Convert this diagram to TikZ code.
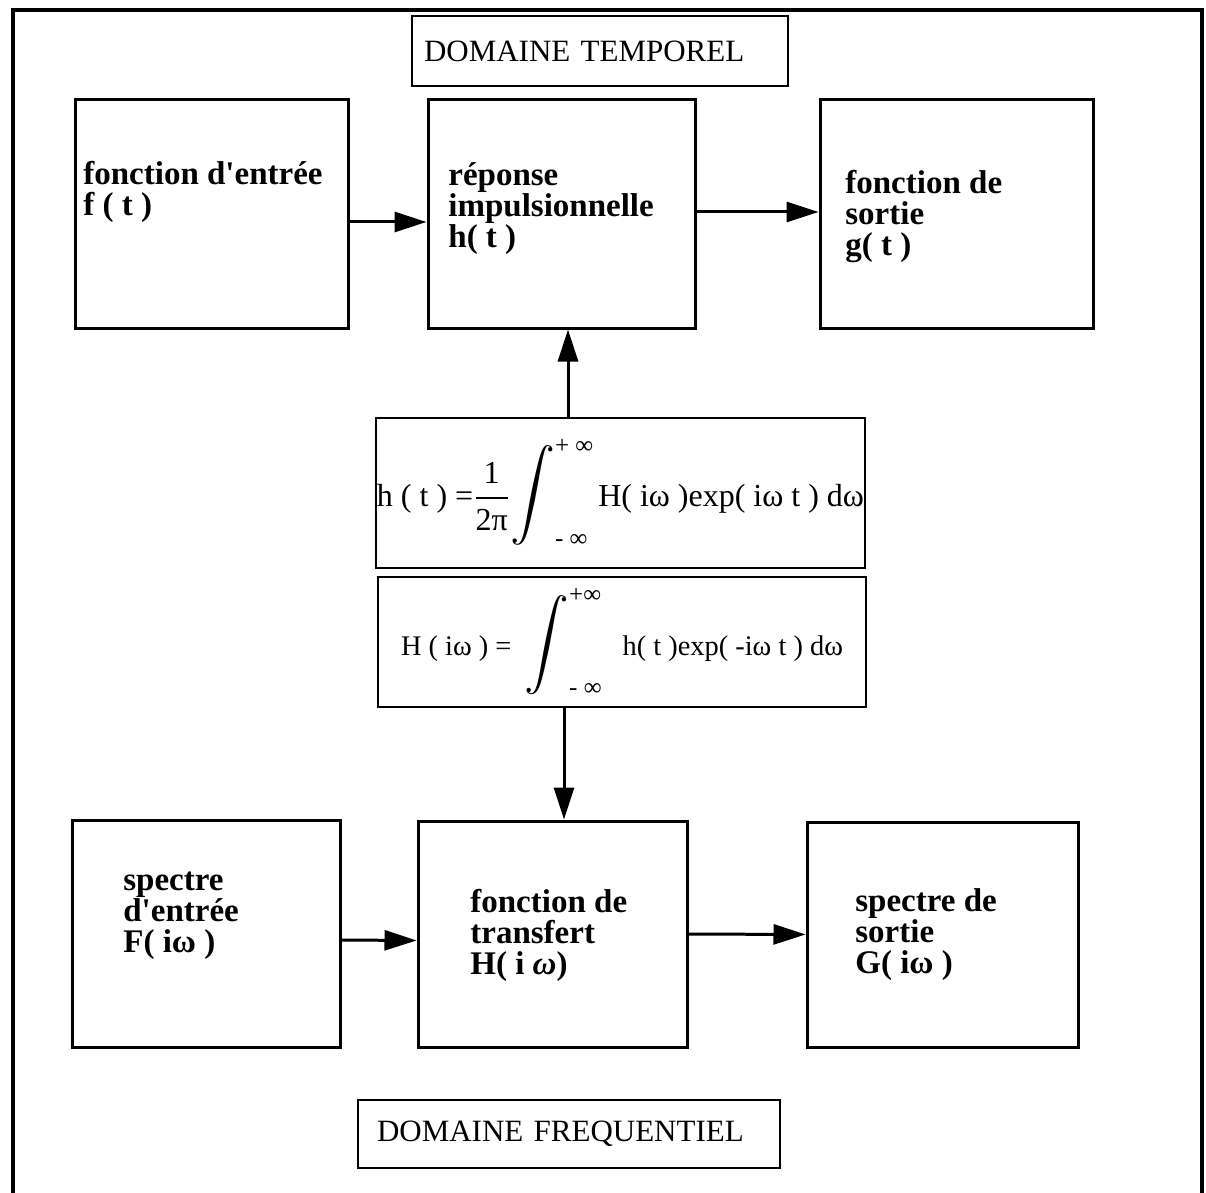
\documentclass[tikz,border=0pt]{standalone}
\usepackage{fontspec}
\setmainfont{Liberation Serif}
\usepackage{amsmath}
\usepackage{graphicx}
\usetikzlibrary{arrows.meta}

\newcommand{\borne}[1]{\text{\fontsize{12.5}{14}\selectfont #1}}

\begin{document}
\begin{tikzpicture}[x=0.5pt,y=-0.5pt,
		blok/.style={draw, line width=1.5pt, inner sep=0pt},
		formule/.style={draw, line width=1pt, inner sep=0pt},
		titre/.style={draw, line width=1pt, inner ysep=0pt, align=left, font=\fontsize{15.5}{18}\selectfont},
		etiq/.style={anchor=north west, inner sep=0pt, align=left, font=\fontsize{16.5}{15.5}\selectfont\bfseries},
		fleche/.style={line width=1.5pt, -{Triangle[length=16pt,width=10pt]}}]
		\useasboundingbox (0,0) rectangle (1206,1193);
		\draw[line width=2pt] (13,1230) -- (13,10) -- (1202,10) -- (1202,1230);

		% domaine temporel
		\node[titre, minimum width=188pt, minimum height=35pt, inner xsep=6pt, text width=176pt] (temporel) at (600,51) {DOMAINE TEMPOREL};
		\node[blok, minimum width=136.5pt, minimum height=114pt] (fentree) at (211.5,214) {};
		\node[blok, minimum width=133.5pt, minimum height=114pt] (hrep) at (561.5,214) {};
		\node[blok, minimum width=136.5pt, minimum height=114pt] (gsortie) at (956.5,214) {};
		\node[etiq] (tfentree) at (83,161) {fonction d\textquotesingle entrée\\f ( t )};
		\node[etiq] (threp) at (448,162) {réponse\\impulsionnelle\\h( t )};
		\node[etiq] (tgsortie) at (845,170) {fonction de\\sortie\\g( t )};

		% transformations
		\node[formule, minimum width=244.5pt, minimum height=75pt, font=\fontsize{16}{19}\selectfont] (invTF) at (620.5,493)
			{h ( t ) =$\displaystyle\frac{\text{1}}{\text{2π}}\!\mathop{\scalebox{1.3}{$\displaystyle\int$}}\nolimits_{\borne{- ∞}}^{\borne{+ ∞}}$\hspace{2pt}H( iω )exp( iω t ) dω};
		\node[formule, minimum width=244pt, minimum height=65pt, font=\fontsize{14.2}{17}\selectfont] (dirTF) at (622,642)
			{H ( iω ) = \hspace{3pt}$\mathop{\scalebox{1.55}{$\displaystyle\int$}}\nolimits_{\borne{- ∞}}^{\borne{+∞}}$\hspace{10pt}h( t )exp( -iω t ) dω};

		% domaine frequentiel
		\node[blok, minimum width=134pt, minimum height=113.5pt] (Fspec) at (206,933.5) {};
		\node[blok, minimum width=134.5pt, minimum height=113pt] (Htrans) at (552.5,934) {};
		\node[blok, minimum width=135.5pt, minimum height=112.5pt] (Gspec) at (942.5,934.5) {};
		\node[etiq] (tFspec) at (123,872) {spectre\\d\textquotesingle entrée\\F( iω )};
		\node[etiq] (tHtrans) at (470,889) {fonction de\\transfert\\H( i \textit{ω})};
		\node[etiq] (tGspec) at (855,888) {spectre de\\sortie\\G( iω )};
		\node[titre, minimum width=211pt, minimum height=34pt, inner xsep=9.5pt, text width=192pt] (frequentiel) at (569,1134) {DOMAINE FREQUENTIEL};

		\coordinate (hb) at ([xshift=3.25pt]hrep.south);
		\coordinate (ht) at ([xshift=5.75pt]Htrans.north);
		\draw[fleche] ([yshift=-4pt]fentree.east) -- ([yshift=-4pt]hrep.west);
		\draw[fleche] ([yshift=1pt]hrep.east) -- ([yshift=1pt]gsortie.west);
		\draw[fleche] (hb |- invTF.north) -- (hb);
		\draw[fleche] (ht |- dirTF.south) -- (ht);
		\draw[fleche] ([yshift=-3.25pt]Fspec.east) -- ([yshift=-3.25pt]Htrans.west);
		\draw[fleche] (Htrans.east) -- (Gspec.west);
	\end{tikzpicture}
\end{document}
